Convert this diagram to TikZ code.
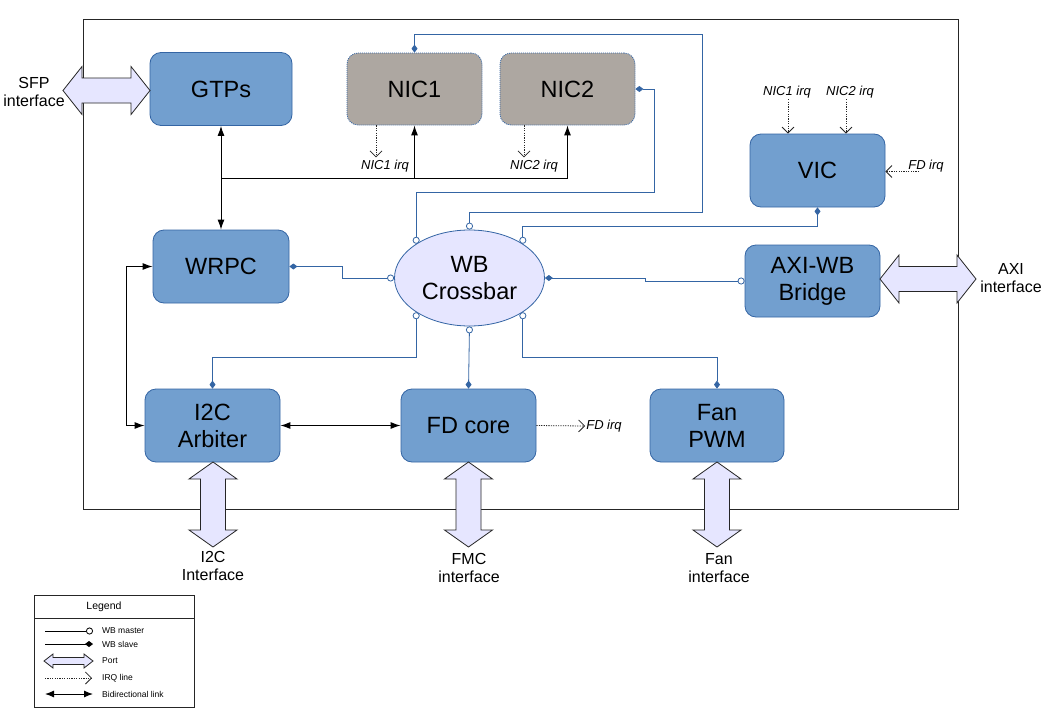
\documentclass[tikz,border=0pt]{standalone}
\usepackage{fontspec}
\setmainfont{Liberation Sans}
\usetikzlibrary{arrows.meta,shapes.geometric}
\definecolor{nodefill}{RGB}{114,159,207}
\definecolor{nodedraw}{RGB}{52,101,164}
\definecolor{nicfill}{RGB}{173,167,161}
\definecolor{lav}{RGB}{230,230,255}
\definecolor{wire}{RGB}{52,101,164}
\newcommand\myhport[6]{%
  \filldraw[portst] (#1,#3) -- (#1+#4,#3-#5) -- (#1+#4,#3-#6) -- (#2-#4,#3-#6) -- (#2-#4,#3-#5) -- (#2,#3)
   -- (#2-#4,#3+#5) -- (#2-#4,#3+#6) -- (#1+#4,#3+#6) -- (#1+#4,#3+#5) -- cycle;}
\newcommand\myvport[6]{%
  \filldraw[portst] (#3,#1) -- (#3-#5,#1+#4) -- (#3-#6,#1+#4) -- (#3-#6,#2-#4) -- (#3-#5,#2-#4) -- (#3,#2)
   -- (#3+#5,#2-#4) -- (#3+#6,#2-#4) -- (#3+#6,#1+#4) -- (#3+#5,#1+#4) -- cycle;}
\begin{document}
\begin{tikzpicture}[x=1pt,y=-1pt,
  blk/.style={rectangle, rounded corners=11pt, fill=nodefill, draw=nodedraw, line width=0.8pt,
    font=\fontsize{23.5}{27}\selectfont, align=center, inner sep=0pt},
  nic/.style={blk, fill=nicfill, dash pattern=on 1pt off 1pt},
  portst/.style={fill=lav, draw=black!85, line width=0.8pt},
  plabel/.style={font=\fontsize{16}{18}\selectfont, align=center, inner sep=1pt},
  irqlbl/.style={font=\fontsize{13}{15}\selectfont\itshape, inner sep=1pt},
  leglbl/.style={font=\fontsize{8.5}{10}\selectfont, anchor=west, inner sep=0pt},
  wb/.style={draw=wire, line width=0.8pt},
  wbm/.style={wb, {Circle[fill=white,length=7pt,width=7pt]}-{Diamond[length=8pt,width=6pt]}},
  bid/.style={draw=black, line width=1pt, {Latex[length=10pt,width=7pt]}-{Latex[length=10pt,width=7pt]}},
  ow/.style={draw=black, line width=1pt, -{Latex[length=10pt,width=7pt]}},
  irq/.style={draw=black!85, line width=0.8pt, dash pattern=on 1.2pt off 1.2pt, -{Straight Barb[length=6pt,width=12pt]}}
]
\useasboundingbox (0,0) rectangle (1045,715);
\fill[white] (0,0) rectangle (1045,715);
% outer frame
\draw[line width=0.9pt, draw=black!85] (83,19) rectangle (958,509);

% blocks
\node[blk, minimum width=142pt, minimum height=73pt] (gtps) at (221,89) {GTPs};
\node[nic, minimum width=135pt, minimum height=72pt] (nic1) at (414.5,89) {NIC1};
\node[nic, minimum width=135pt, minimum height=72pt] (nic2) at (567.5,89) {NIC2};
\node[blk, minimum width=135pt, minimum height=73pt] (vic) at (817.5,170.5) {VIC};
\node[blk, minimum width=135pt, minimum height=72pt] (axi) at (812.5,281) {AXI-WB\\Bridge};
\node[blk, minimum width=136pt, minimum height=73pt] (wrpc) at (221,266.5) {WRPC};
\node[ellipse, fill=lav, draw=nodedraw, line width=0.8pt, minimum width=150pt, minimum height=96pt,
  inner sep=0pt, align=center, font=\fontsize{23.5}{27}\selectfont] (xbar) at (469.5,278) {WB\\Crossbar};
\node[blk, minimum width=135pt, minimum height=73pt] (i2c) at (212.5,425.5) {I2C\\Arbiter};
\node[blk, minimum width=135pt, minimum height=73pt] (fd) at (468.5,425.5) {FD core};
\node[blk, minimum width=134pt, minimum height=73pt] (fan) at (717,425.5) {Fan\\PWM};

% ports
\myhport{63}{150}{90.5}{19}{24}{12.5}
\myhport{880}{976}{279}{19}{24}{12.5}
\myvport{462}{547}{213}{17}{24}{12.5}
\myvport{462}{547}{468.5}{17}{24}{12.5}
\myvport{462}{547}{717}{17}{24}{12.5}

% port labels
\node[plabel] (sfpl) at (34,92) {SFP\\interface};
\node[plabel] (axil) at (1011,278) {AXI\\interface};
\node[plabel] (i2cl) at (213,566) {I2C\\Interface};
\node[plabel] (fmcl) at (469,568) {FMC\\interface};
\node[plabel] (fanl) at (719,568) {Fan\\interface};

% WB connections
\draw[wbm] (xbar.north west) |- (654,192) |- (nic2.east);
\draw[wbm] (xbar.north) |- (702,212) |- (414.5,34) -- (nic1.north);
\draw[wbm] (xbar.north east) |- (817.5,226) -- (vic.south);
\draw[wbm] (xbar.west) -- (342,278) |- (wrpc.east);
\draw[wbm] (axi.west) -- (645,281) |- (xbar.east);
\draw[wbm] (xbar.south west) |- (212.5,357) -- (i2c.north);
\draw[wbm] (xbar.south) -- (fd.north);
\draw[wbm] (xbar.south east) |- (717,357) -- (fan.north);

% black links
\draw[bid] (gtps.south) -- (wrpc.north);
\coordinate (jn) at (221,178);
\draw[ow] (jn) -| (nic2.south);
\draw[ow] (nic1.south |- jn) -- (nic1.south);
\draw[bid] (wrpc.west) -- ++(-26,0) |- (i2c.west);
\draw[bid] (i2c.east) -- (fd.west);

% IRQ lines
\node[irqlbl] (n1irq) at (385,166) {NIC1 irq};
\node[irqlbl] (n2irq) at (534,166) {NIC2 irq};
\draw[irq] ([xshift=-38.5pt]nic1.south) -- ++(0,32);
\draw[irq] ([xshift=-43.5pt]nic2.south) -- ++(0,32);
\node[irqlbl] (v1irq) at (787,92) {NIC1 irq};
\node[irqlbl] (v2irq) at (850,92) {NIC2 irq};
\draw[irq] ([xshift=1pt]v1irq.south) -- ([xshift=1pt]v1irq.south |- vic.north);
\draw[irq] ([xshift=-4pt]v2irq.south) -- ([xshift=-4pt]v2irq.south |- vic.north);
\node[irqlbl] (vfdirq) at (926,166) {FD irq};
\coordinate (fdsrc) at (919,171.5);
\draw[irq] (fdsrc) -- (fdsrc -| vic.east);
\node[irqlbl] (fdirq) at (604,426) {FD irq};
\draw[irq] (fd.east) -- (fdirq.west);

% legend
\draw[line width=0.8pt, draw=black!85] (34,595) rectangle (194,707);
\draw[line width=0.8pt, draw=black!85] (34,618) -- (194,618);
\node[font=\fontsize{10.5}{12}\selectfont, inner sep=0pt] (legt) at (104,607) {Legend};
\coordinate (l1a) at (45,631); \coordinate (l1b) at (93,631);
\draw[line width=0.8pt, -{Circle[fill=white,length=7pt,width=7pt]}] (l1a) -- (l1b);
\node[leglbl] (lg1) at (102,631) {WB master};
\coordinate (l2a) at (45,644); \coordinate (l2b) at (93,644);
\draw[line width=0.8pt, -{Diamond[length=8pt,width=6pt]}] (l2a) -- (l2b);
\node[leglbl] (lg2) at (102,644) {WB slave};
\myhport{44}{93}{661}{9}{7}{3.5}
\node[leglbl] (lg3) at (102,661) {Port};
\coordinate (l4a) at (45,678); \coordinate (l4b) at (92,678);
\draw[irq] (l4a) -- (l4b);
\node[leglbl] (lg4) at (102,678) {IRQ line};
\coordinate (l5a) at (45,694); \coordinate (l5b) at (93,694);
\draw[line width=1pt, {Latex[length=9pt,width=7pt]}-{Latex[length=9pt,width=7pt]}] (l5a) -- (l5b);
\node[leglbl] (lg5) at (102,694) {Bidirectional link};
\end{tikzpicture}
\end{document}
